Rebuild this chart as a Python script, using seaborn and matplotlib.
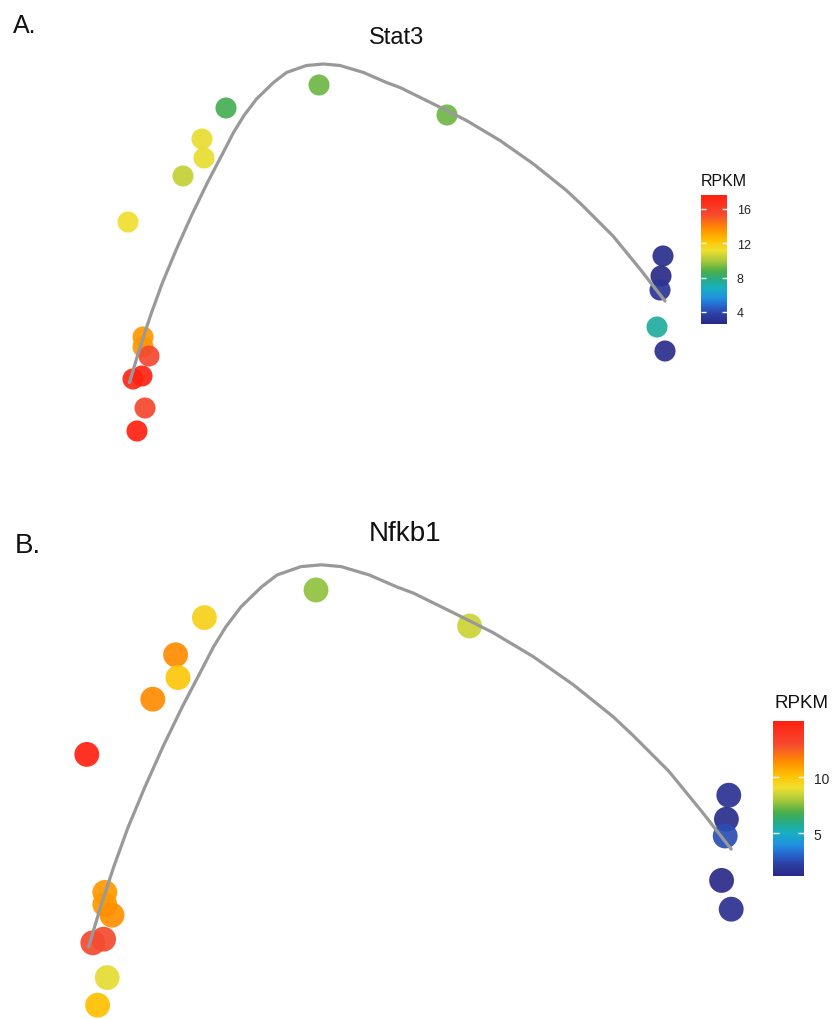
import matplotlib
matplotlib.use('Agg')
import matplotlib.pyplot as plt
import numpy as np
import pandas as pd
import seaborn as sns
from matplotlib.colors import LinearSegmentedColormap, Normalize
from matplotlib.cm import ScalarMappable

sns.set_style('white')
plt.rcParams['font.family'] = ['Liberation Sans', 'DejaVu Sans']

# cell positions on the trajectory (same embedding in both panels)
comp1 = [4.38, 6.94, 2.52, 2.04, 2.08, 1.66, 0.56, 0.86, 0.86, 0.98,
         0.66, 0.84, 0.90, 0.74, 11.26, 11.22, 11.20, 11.14, 11.30]
comp2 = [7.28, 6.68, 6.82, 6.20, 5.82, 5.46, 4.54, 2.24, 2.04, 1.86,
         1.40, 1.46, 0.82, 0.36, 3.86, 3.46, 3.18, 2.44, 1.96]

# expression per cell
stat3 = [9.2, 9.2, 8.6, 11.0, 11.0, 10.4, 11.2, 13.4, 13.4, 15.4,
         17.2, 17.4, 15.5, 17.6, 2.8, 2.6, 3.2, 7.4, 2.8]
nfkb1 = [7.7, 8.5, 9.6, 11.4, 9.9, 11.4, 15.0, 11.1, 11.1, 11.3,
         12.9, 12.9, 8.9, 10.2, 1.6, 1.4, 2.6, 1.2, 1.5]

# fitted principal curve
curve1 = [0.59, 0.79, 1.01, 1.25, 1.53, 1.83, 2.15, 2.50, 2.67, 2.88, 3.13,
          3.47, 3.73, 4.13, 4.47, 4.80, 5.27, 5.73, 6.00, 6.67, 7.33, 8.00,
          8.67, 9.33, 9.66, 10.26, 10.80, 11.30]
curve2 = [1.33, 2.00, 2.67, 3.33, 4.00, 4.67, 5.33, 6.00, 6.33, 6.67, 7.00,
          7.33, 7.53, 7.67, 7.70, 7.67, 7.53, 7.33, 7.23, 6.90, 6.57, 6.17,
          5.70, 5.17, 4.86, 4.26, 3.60, 2.96]

stat3_ticks = [4, 8, 12, 16]
nfkb1_ticks = [5, 10]

df = pd.DataFrame({'c1': comp1, 'c2': comp2, 'Stat3': stat3, 'Nfkb1': nfkb1})
curve = pd.DataFrame({'c1': curve1, 'c2': curve2})

rpkm_cmap = LinearSegmentedColormap.from_list('rpkm', [
    (0.0, '#2a2a88'), (0.07, '#2c3ea0'), (0.13, '#2860c8'), (0.2, '#2090e0'),
    (0.28, '#18b0c0'), (0.34, '#25ab8a'), (0.41, '#4aae4a'), (0.49, '#a8c83a'),
    (0.57, '#f0e030'), (0.65, '#ffc000'), (0.74, '#ff8c00'), (0.85, '#f54a30'),
    (1.0, '#ff2010')])

W, H = 834, 1020
fig = plt.figure(figsize=(W / 100, H / 100), dpi=100)


def px_rect(x0, y0, x1, y1):
    # pixel box (top-left origin) -> figure fraction rect
    return [x0 / W, 1 - y1 / H, (x1 - x0) / W, (y1 - y0) / H]


def panel(gene, ax_box, xlim, ylim, size, cbar_box, ticks, title, title_xy,
          title_fs, letter, letter_xy, letter_fs, cbar_title_xy, cbar_fs, tick_fs):
    ax = fig.add_axes(px_rect(*ax_box))
    vmin, vmax = df[gene].min(), df[gene].max()
    sns.scatterplot(data=df, x='c1', y='c2', hue=gene, palette=rpkm_cmap,
                    hue_norm=(vmin, vmax), s=size, edgecolor='none', alpha=0.92,
                    legend=False, ax=ax, clip_on=False, zorder=2)
    sns.lineplot(data=curve, x='c1', y='c2', sort=False, color='#999999',
                 lw=2.3, ax=ax, zorder=3, solid_joinstyle='round')
    ax.set_xlim(*xlim)
    ax.set_ylim(*ylim)
    ax.axis('off')

    cax = fig.add_axes(px_rect(*cbar_box))
    sm = ScalarMappable(norm=Normalize(vmin, vmax), cmap=rpkm_cmap)
    cb = fig.colorbar(sm, cax=cax)
    cb.outline.set_visible(False)
    cb.set_ticks(ticks)
    cax.tick_params(length=0, labelsize=tick_fs, pad=7, colors='#222222')
    cax.hlines(ticks, 0, 0.2, colors='white', lw=1)
    cax.hlines(ticks, 0.8, 1, colors='white', lw=1)

    fig.text(cbar_title_xy[0] / W, 1 - cbar_title_xy[1] / H, 'RPKM',
             fontsize=cbar_fs, ha='left', va='baseline', color='#111111')
    fig.text(title_xy[0] / W, 1 - title_xy[1] / H, title, fontsize=title_fs,
             ha='center', va='baseline', color='#111111')
    fig.text(letter_xy[0] / W, 1 - letter_xy[1] / H, letter, fontsize=letter_fs,
             ha='left', va='baseline', color='#111111')


panel('Stat3', (40, 50, 690, 460), (-1.2, 11.8), (-0.2, 8.0), 230,
      (701, 196, 727, 325), stat3_ticks, 'Stat3', (397, 44), 17,
      'A.', (13, 33), 18, (701, 186), 11.5, 9)
panel('Nfkb1', (23.2, 547.8, 761.2, 1018.8), (-0.5, 11.8), (0.15, 8.0), 320,
      (773, 722, 804, 877), nfkb1_ticks, 'Nfkb1', (405, 541), 20,
      'B.', (15, 553), 20, (774, 708), 13.5, 10)

fig.savefig('out.png', dpi=100)
